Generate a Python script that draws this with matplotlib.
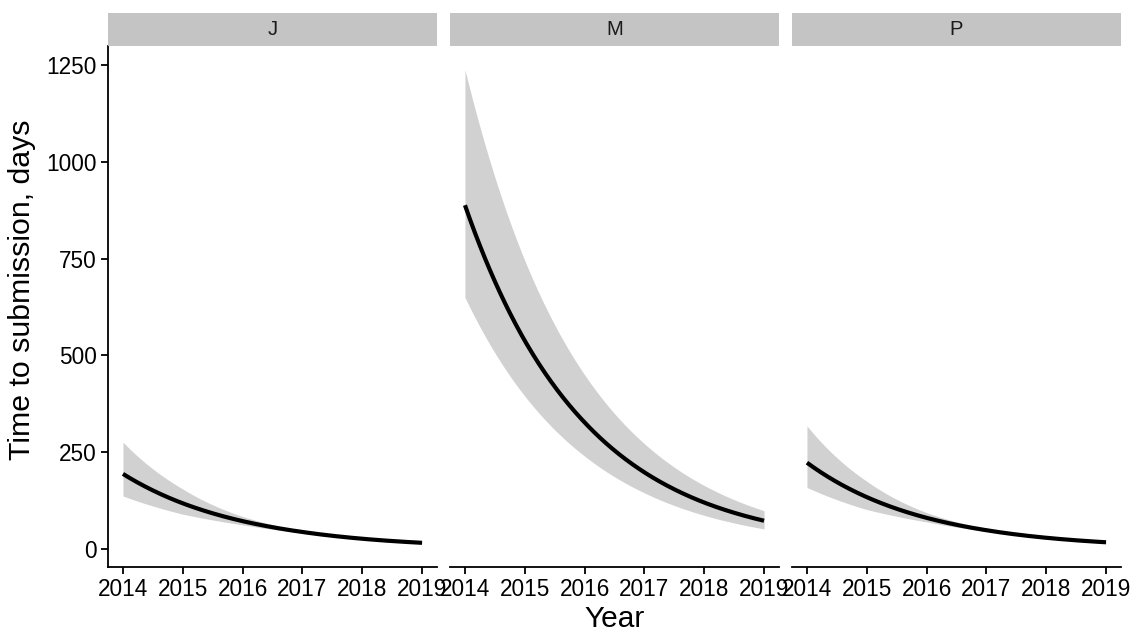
import numpy as np
import matplotlib
matplotlib.use("Agg")
import matplotlib.pyplot as plt

plt.rcParams['font.family'] = ['Liberation Sans', 'DejaVu Sans']

# Fitted time to submission (days) per year, with confidence band
years = [2014, 2015, 2016, 2017, 2018, 2019]
panels = ["J", "M", "P"]

j_fit = [194, 118, 72, 44, 26.5, 16]
j_upper = [276, 155, 84, 47.5, 27.8, 17.1]
j_lower = [137, 90, 62.5, 41.3, 25.4, 14.7]

m_fit = [888, 538, 327, 198, 120, 73]
m_upper = [1238, 745, 450, 272, 164, 99]
m_lower = [650, 395, 240, 145, 87, 52]

p_fit = [223, 134, 80.5, 48.5, 29, 17.4]
p_upper = [318, 175, 94, 52.5, 30.5, 18.6]
p_lower = [159, 102, 70, 45.5, 27.8, 16.0]

fits = [j_fit, m_fit, p_fit]
uppers = [j_upper, m_upper, p_upper]
lowers = [j_lower, m_lower, p_lower]

y_ticks = [0, 250, 500, 750, 1000, 1250]
x_ticks = years

W, H = 1139, 633
fig = plt.figure(figsize=(W / 100, H / 100), dpi=100)

panel_left = [108, 450, 792]
panel_w = 329
panel_top, panel_bottom = 46, 567
strip_top = 13

ribbon_col = '#D1D1D1'
strip_col = '#C4C4C4'

# y range shared by all panels, expanded 5% like ggplot
lo = min(min(v) for v in lowers)
hi = max(max(v) for v in uppers)
pad = 0.05 * (hi - lo)
x_pad = 0.05 * (years[-1] - years[0])


def smooth(xs, ys, n=300):
    # draw the yearly values as a smooth exponential-shaped curve
    t = np.linspace(xs[0], xs[-1], n)
    return t, np.exp(np.interp(t, xs, np.log(ys)))


for i, name in enumerate(panels):
    l = panel_left[i]
    ax = fig.add_axes([l / W, 1 - panel_bottom / H, panel_w / W,
                       (panel_bottom - panel_top) / H])
    t, up = smooth(years, uppers[i])
    _, dn = smooth(years, lowers[i])
    _, mid = smooth(years, fits[i])
    ax.fill_between(t, dn, up, color=ribbon_col, lw=0)
    ax.plot(t, mid, color='black', lw=3.0, solid_capstyle='butt')

    ax.set_xlim(years[0] - x_pad, years[-1] + x_pad)
    ax.set_ylim(lo - pad, hi + pad)
    ax.set_xticks(x_ticks)
    ax.set_xticklabels([str(y) for y in x_ticks])
    ax.set_yticks(y_ticks)
    for s in ['top', 'right']:
        ax.spines[s].set_visible(False)
    ax.spines['bottom'].set_linewidth(1.3)
    ax.spines['left'].set_linewidth(1.3)
    ax.tick_params(axis='both', length=5, width=1.3, labelsize=16.3,
                   pad=3, colors='black')
    if i > 0:
        ax.spines['left'].set_visible(False)
        ax.tick_params(axis='y', left=False, labelleft=False)

    sax = fig.add_axes([l / W, 1 - panel_top / H, panel_w / W,
                        (panel_top - strip_top) / H])
    sax.set_facecolor(strip_col)
    for s in sax.spines.values():
        s.set_visible(False)
    sax.set_xticks([])
    sax.set_yticks([])
    sax.text(0.5, 0.5, name, ha='center', va='center', fontsize=14.5,
             color='#1A1A1A', transform=sax.transAxes)

fig.text(22 / W, 1 - 290 / H, 'Time to submission, days', rotation=90,
         ha='center', va='center', fontsize=21.8)
fig.text(614.5 / W, 1 - 619 / H, 'Year', ha='center', va='center',
         fontsize=21.5)

fig.savefig('out.png', dpi=100)
